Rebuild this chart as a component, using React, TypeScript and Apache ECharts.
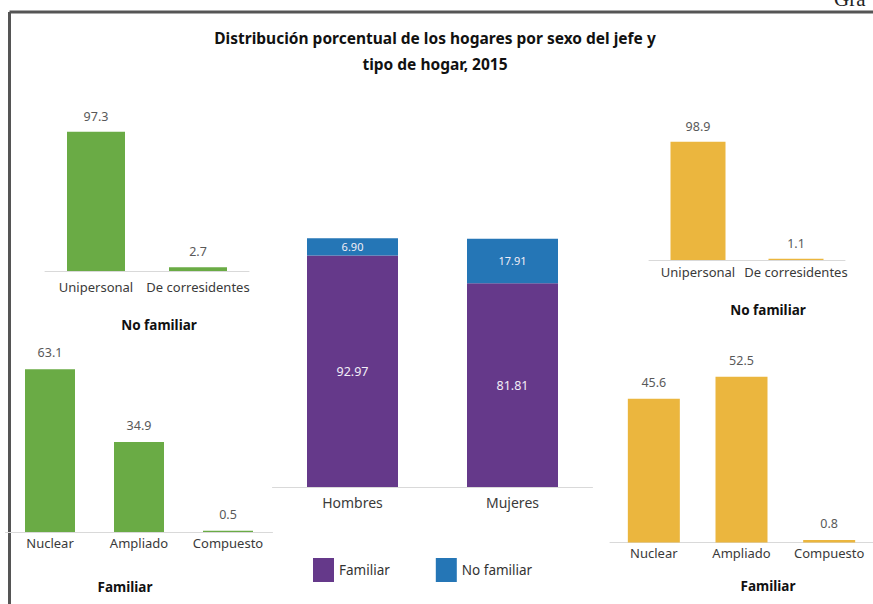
import React, { useEffect, useRef } from "react";
import * as echarts from "echarts";

const TITLE_LINES = ["Distribución porcentual de los hogares por sexo del jefe y", "tipo de hogar, 2015"];
const noFamCats = ["Unipersonal", "De corresidentes"];
const famCats = ["Nuclear", "Ampliado", "Compuesto"];
const sexCats = ["Hombres", "Mujeres"];
const hombresNoFam = [97.3, 2.7];
const hombresFam = [63.1, 34.9, 0.5];
const mujeresNoFam = [98.9, 1.1];
const mujeresFam = [45.6, 52.5, 0.8];
const familiarShare = [92.97, 81.81];
const noFamiliarShare = [6.9, 17.91];
const SUB_NO_FAM = "No familiar";
const SUB_FAM = "Familiar";

const GREEN = "#6aab45";
const YELLOW = "#ebb63e";
const PURPLE = "#65398a";
const BLUE = "#2576b6";
const FONT = "'Noto Sans', sans-serif";

export default function App() {
  const ref = useRef<HTMLDivElement>(null);
  useEffect(() => {
    if (!ref.current) return;
    const chart = echarts.init(ref.current, undefined, { renderer: "svg" });
    const grids = [
      { left: 45, top: 128, width: 204, height: 143 },
      { left: 5.5, top: 274, width: 267, height: 258 },
      { left: 272.5, top: 238, width: 320, height: 249 },
      { left: 649, top: 140.4, width: 196, height: 119.6 },
      { left: 610, top: 227, width: 270, height: 315.5 },
    ];
    const cats = [noFamCats, famCats, sexCats, noFamCats, famCats];
    const margins = [9, 4, 8, 5, 4];
    const labelSizes = [13, 13, 14, 13, 13];
    const xAxis = cats.map((c, i) => ({
      type: "category",
      gridIndex: i,
      data: c,
      axisTick: { show: false },
      axisLine: { show: true, lineStyle: { color: "#d9d9d9", width: 1 } },
      axisLabel: { color: "#3a3a3a", fontSize: labelSizes[i], margin: margins[i], fontFamily: FONT, interval: 0 },
    }));
    const yAxis = grids.map((_, i) => ({
      type: "value",
      gridIndex: i,
      min: 0,
      max: 100,
      show: false,
      splitLine: { show: false },
    }));
    const topLabel = (dist: number) => ({
      show: true,
      position: "top",
      distance: dist,
      color: "#595959",
      fontSize: 12.5,
      fontFamily: FONT,
      formatter: (p: any) => Number(p.value).toFixed(1),
    });
    const inLabel = (size: number) => ({
      show: true,
      position: "inside",
      color: "#f2eef7",
      fontSize: size,
      fontFamily: FONT,
      formatter: (p: any) => Number(p.value).toFixed(2),
    });
    const option: any = {
      animation: false,
      backgroundColor: "#ffffff",
      grid: grids,
      xAxis,
      yAxis,
      legend: {
        data: ["Familiar", "No familiar"],
        left: 313,
        top: 558,
        padding: 0,
        itemWidth: 21,
        itemHeight: 24,
        itemGap: 46,
        icon: "rect",
        textStyle: { fontSize: 13.5, color: "#333", fontFamily: FONT },
      },
      series: [
        { type: "bar", xAxisIndex: 0, yAxisIndex: 0, data: hombresNoFam, barWidth: 58, itemStyle: { color: GREEN }, label: topLabel(9) },
        { type: "bar", xAxisIndex: 1, yAxisIndex: 1, data: hombresFam, barWidth: 50, itemStyle: { color: GREEN }, label: topLabel(10) },
        { type: "bar", name: "Familiar", xAxisIndex: 2, yAxisIndex: 2, stack: "s", data: familiarShare, barWidth: 91, itemStyle: { color: PURPLE }, label: inLabel(12.5) },
        { type: "bar", name: "No familiar", xAxisIndex: 2, yAxisIndex: 2, stack: "s", data: noFamiliarShare, barWidth: 91, itemStyle: { color: BLUE }, label: inLabel(11) },
        { type: "bar", xAxisIndex: 3, yAxisIndex: 3, data: mujeresNoFam, barWidth: 55, itemStyle: { color: YELLOW }, label: topLabel(9) },
        { type: "bar", xAxisIndex: 4, yAxisIndex: 4, data: mujeresFam, barWidth: 52, itemStyle: { color: YELLOW }, label: topLabel(10) },
      ],
      graphic: [
        { type: "line", shape: { x1: 9.5, y1: 12, x2: 873, y2: 12 }, style: { stroke: "#555", lineWidth: 3 } },
        { type: "line", shape: { x1: 9.5, y1: 12, x2: 9.5, y2: 604 }, style: { stroke: "#555", lineWidth: 3 } },
        { type: "text", x: 834, y: 9, style: { text: "Grá", fill: "#222", font: "21px 'Liberation Serif', serif", textVerticalAlign: "bottom" } },
        { type: "text", x: 435, y: 38, style: { text: TITLE_LINES[0], fill: "#111", font: `bold 15.5px ${FONT}`, textAlign: "center", textVerticalAlign: "middle" } },
        { type: "text", x: 435, y: 64, style: { text: TITLE_LINES[1], fill: "#111", font: `bold 15.5px ${FONT}`, textAlign: "center", textVerticalAlign: "middle" } },
        { type: "text", x: 159, y: 325, style: { text: SUB_NO_FAM, fill: "#111", font: `bold 13.5px ${FONT}`, textAlign: "center", textVerticalAlign: "middle" } },
        { type: "text", x: 768, y: 310, style: { text: SUB_NO_FAM, fill: "#111", font: `bold 13.5px ${FONT}`, textAlign: "center", textVerticalAlign: "middle" } },
        { type: "text", x: 125, y: 587, style: { text: SUB_FAM, fill: "#111", font: `bold 13.5px ${FONT}`, textAlign: "center", textVerticalAlign: "middle" } },
        { type: "text", x: 768, y: 586, style: { text: SUB_FAM, fill: "#111", font: `bold 13.5px ${FONT}`, textAlign: "center", textVerticalAlign: "middle" } },
      ],
    };
    chart.setOption(option);
    return () => chart.dispose();
  }, []);
  return <div ref={ref} style={{ position: "absolute", left: 0, top: 0, width: 873, height: 604 }} />;
}
